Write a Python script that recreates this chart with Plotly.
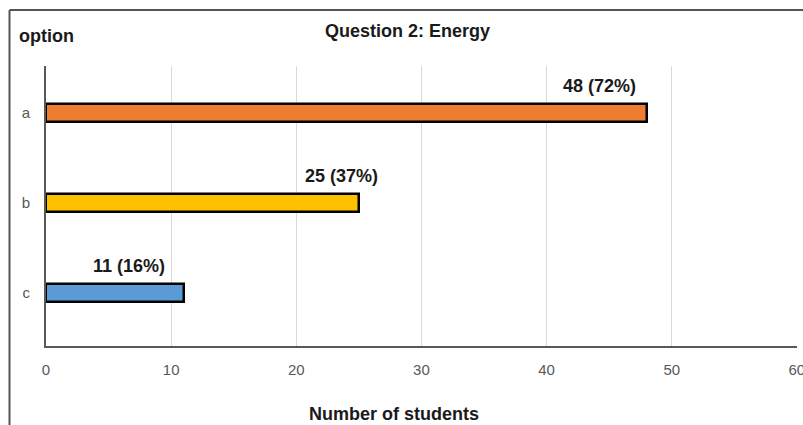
import plotly.graph_objects as go

# ---- data ----
options = ["a", "b", "c"]
students = [48, 25, 11]
percent = [72, 37, 16]
colors = ["#ED7D31", "#FFC000", "#5B9BD5"]
x_ticks = [0, 10, 20, 30, 40, 50, 60]

# label horizontal offsets relative to bar end (data units), as in the original
label_offsets = [-3.8, -1.4, -4.4]

W, H = 803, 425
ml, mr, mt, mb = 46, 6, 66, 79
pw = W - ml - mr
ph = H - mt - mb

def px_x(p):
    return (p - ml) / pw

def px_y(p):
    return (H - mb - p) / ph

fig = go.Figure()
fig.add_trace(go.Bar(
    y=options, x=students, orientation="h",
    marker=dict(color=colors, line=dict(color="black", width=2.5)),
    width=0.21,
    hoverinfo="skip",
))

font_family = "Liberation Sans, Arial, sans-serif"
big = 18

annotations = []
for o, s, p, off in zip(options, students, percent, label_offsets):
    annotations.append(dict(
        x=s + off, y=o, xref="x", yref="y",
        text=f"<b>{s} ({p}%)</b>", showarrow=False,
        yshift=27, xanchor="center", yanchor="middle",
        font=dict(family=font_family, size=big, color="#1a1a1a"),
    ))

annotations.append(dict(
    x=px_x(407), y=px_y(31), xref="paper", yref="paper",
    text="<b>Question 2: Energy</b>", showarrow=False,
    xanchor="center", yanchor="middle",
    font=dict(family=font_family, size=big, color="#1a1a1a"),
))
annotations.append(dict(
    x=px_x(17), y=px_y(36), xref="paper", yref="paper",
    text="<b>option</b>", showarrow=False,
    xanchor="left", yanchor="middle",
    font=dict(family=font_family, size=big, color="#1a1a1a"),
))
annotations.append(dict(
    x=px_x(394), y=px_y(414), xref="paper", yref="paper",
    text="<b>Number of students</b>", showarrow=False,
    xanchor="center", yanchor="middle",
    font=dict(family=font_family, size=big, color="#1a1a1a"),
))

shapes = [
    dict(type="line", xref="paper", yref="paper",
         x0=px_x(9.5), x1=px_x(9.5), y0=px_y(10), y1=px_y(440),
         line=dict(color="#555555", width=2)),
    dict(type="line", xref="paper", yref="paper",
         x0=px_x(9.5), x1=px_x(820), y0=px_y(10), y1=px_y(10),
         line=dict(color="#555555", width=2)),
]

fig.update_layout(
    width=W, height=H,
    margin=dict(l=ml, r=mr, t=mt, b=mb, pad=0, autoexpand=False),
    paper_bgcolor="white", plot_bgcolor="white",
    showlegend=False,
    annotations=annotations,
    shapes=shapes,
    bargap=0,
)

fig.update_xaxes(
    range=[0, 60.01], tickvals=x_ticks,
    showgrid=True, gridcolor="#d9d9d9", gridwidth=1,
    showline=True, linecolor="#595959", linewidth=2,
    zeroline=False, ticks="",
    tickfont=dict(family=font_family, size=15, color="#595959"),
    ticklabelstandoff=9,
    ticklabeloverflow="allow",
    automargin=False,
    fixedrange=True,
)
fig.update_yaxes(
    type="category", categoryorder="array", categoryarray=options,
    range=[2.589, -0.522],
    showgrid=False,
    showline=True, linecolor="#595959", linewidth=2,
    zeroline=False, ticks="",
    tickfont=dict(family=font_family, size=15, color="#595959"),
    ticklabelstandoff=11,
    automargin=False,
    fixedrange=True,
)

fig.write_html("out.html", config={"displayModeBar": False})
